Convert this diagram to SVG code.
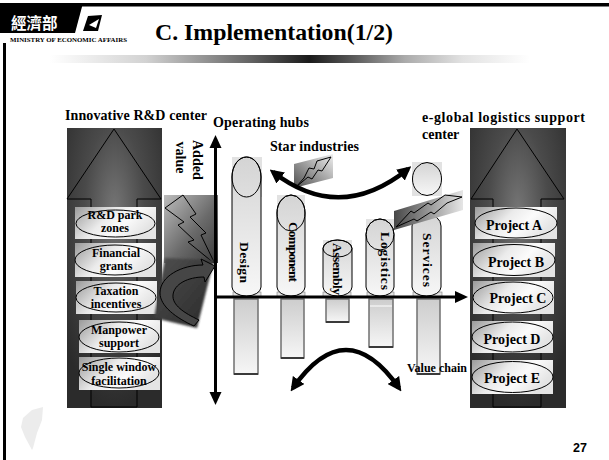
<svg xmlns="http://www.w3.org/2000/svg" width="609" height="460" viewBox="0 0 609 460">
<style>
.t{font-family:"Liberation Serif","Times New Roman",serif;font-weight:bold;fill:#000}
.h{font-size:14px}
.lb{font-size:12px;text-anchor:middle}
.pj{font-size:14px;text-anchor:middle}
.col{font-size:13.5px;text-anchor:middle}
.ol{fill:none;stroke:#000;stroke-width:1}
.box{fill:url(#boxG)}
.panel{fill:url(#panelG)}
.cap{fill:url(#capG);stroke:#000;stroke-width:1}
.capbg{fill:#e2e2e2}
.bar{fill:url(#barG);stroke:#707070;stroke-width:1.5}
.barEdge{stroke:#3a3a3a;stroke-width:2}
.plate{fill:#e2e2e2;stroke:#808080;stroke-width:0.6}
.bolt{fill:none;stroke:#000;stroke-width:1}
.curve{fill:none;stroke:#000;stroke-width:4.5}
.axis{stroke:#000;stroke-width:3;fill:none}
</style>
<defs>
  <linearGradient id="ruleG" x1="0" y1="0" x2="1" y2="0">
    <stop offset="0" stop-color="#ffffff"/>
    <stop offset="0.2" stop-color="#d2d2d2"/>
    <stop offset="0.42" stop-color="#626262"/>
    <stop offset="0.54" stop-color="#1a1a1a"/>
    <stop offset="0.63" stop-color="#585858"/>
    <stop offset="0.74" stop-color="#ababab"/>
    <stop offset="0.86" stop-color="#e2e2e2"/>
    <stop offset="1" stop-color="#ffffff"/>
  </linearGradient>
  <radialGradient id="panelG" cx="0.5" cy="0.3" r="0.7">
    <stop offset="0" stop-color="#767676"/>
    <stop offset="0.45" stop-color="#4a4a4a"/>
    <stop offset="1" stop-color="#2b2b2b"/>
  </radialGradient>
  <linearGradient id="boxG" x1="0" y1="0" x2="1" y2="0.4">
    <stop offset="0" stop-color="#9a9a9a"/>
    <stop offset="0.45" stop-color="#ebebeb"/>
    <stop offset="0.7" stop-color="#fbfbfb"/>
    <stop offset="1" stop-color="#e4e4e4"/>
  </linearGradient>
  <linearGradient id="capG" x1="0" y1="0" x2="0" y2="1">
    <stop offset="0" stop-color="#d4d4d4"/>
    <stop offset="1" stop-color="#f7f7f7"/>
  </linearGradient>
  <linearGradient id="barG" x1="0" y1="0" x2="0" y2="1">
    <stop offset="0" stop-color="#cdcdcd"/>
    <stop offset="1" stop-color="#f6f6f6"/>
  </linearGradient>
  <linearGradient id="starBanG" x1="0" y1="1" x2="1" y2="0">
    <stop offset="0" stop-color="#4e4e4e"/>
    <stop offset="1" stop-color="#f0f0f0"/>
  </linearGradient>
  <linearGradient id="logBanG" x1="0" y1="0" x2="1" y2="0">
    <stop offset="0" stop-color="#474747"/>
    <stop offset="1" stop-color="#e6e6e6"/>
  </linearGradient>
  <linearGradient id="boltBoxG" x1="0" y1="0" x2="1" y2="1">
    <stop offset="0" stop-color="#bdbdbd"/>
    <stop offset="0.55" stop-color="#6a6a6a"/>
    <stop offset="1" stop-color="#3a3a3a"/>
  </linearGradient>
  <linearGradient id="turnG" x1="0" y1="0" x2="1" y2="1">
    <stop offset="0" stop-color="#505050"/>
    <stop offset="0.5" stop-color="#3c3c3c"/>
    <stop offset="1" stop-color="#2a2a2a"/>
  </linearGradient>
  <filter id="soft" x="-0.1" y="-0.1" width="1.2" height="1.2">
    <feGaussianBlur stdDeviation="1.2"/>
  </filter>
  <marker id="ah" viewBox="0 0 10 10" refX="7" refY="5" markerWidth="14" markerHeight="14" markerUnits="userSpaceOnUse" orient="auto-start-reverse">
    <path d="M0,0 L10,5 L0,10 z" fill="#000"/>
  </marker>
</defs>

<rect width="609" height="460" fill="#fff"/>

<!-- slide header -->
<g id="header">
  <rect x="0" y="3" width="609" height="3.5" fill="#000"/>
  <polygon points="0,3 83,3 75,33 0,33" fill="#000"/>
  <text x="11" y="29" font-family="'Noto Sans CJK TC','Noto Sans CJK SC',sans-serif" font-size="15.5" font-weight="bold" fill="#fff">經濟部</text>
  <polygon points="88,16 102,15 98,31 83,31" fill="#000"/>
  <polygon points="89,25 99,19 96,28" fill="#fff"/>
  <text class="t" x="10" y="42" font-size="6.8" textLength="117" lengthAdjust="spacingAndGlyphs">MINISTRY OF ECONOMIC AFFAIRS</text>
  <text class="t" x="155" y="39.5" font-size="23" textLength="238" lengthAdjust="spacingAndGlyphs">C. Implementation(1/2)</text>
  <rect x="50" y="55" width="480" height="8" fill="url(#ruleG)"/>
  <line x1="4.5" y1="43" x2="4.5" y2="460" stroke="#000" stroke-width="3"/>
</g>

<!-- headings -->
<g id="headings">
  <text class="t h" x="65" y="120" textLength="142">Innovative R&amp;D center</text>
  <text class="t h" x="213" y="127" textLength="96">Operating hubs</text>
  <text class="t h" x="270" y="151" textLength="89">Star industries</text>
  <text class="t h" x="422" y="122" textLength="163">e-global logistics support</text>
  <text class="t h" x="422" y="139">center</text>
  <text class="t h" transform="translate(192.5,140) rotate(90)">Added</text>
  <text class="t h" transform="translate(176,141.5) rotate(90)">value</text>
</g>

<!-- left panel: innovative R&D center -->
<g id="rnd-center">
  <rect class="panel" x="67" y="128" width="95" height="280"/>
  <path class="ol" d="M67,199 L114,129 L161,199 L137,199 L137,407 L91,407 L91,199 Z"/>
  <g id="rnd-park">
    <rect class="box" x="75" y="207" width="81" height="32"/>
    <ellipse class="ol" cx="115.5" cy="223.5" rx="39.5" ry="13.5"/>
    <text class="t lb" x="115" y="219">R&amp;D park</text>
    <text class="t lb" x="115" y="232">zones</text>
  </g>
  <g id="financial-grants">
    <rect class="box" x="75" y="243" width="81" height="34"/>
    <ellipse class="ol" cx="115" cy="260" rx="40" ry="15"/>
    <text class="t lb" x="116" y="257">Financial</text>
    <text class="t lb" x="116" y="270">grants</text>
  </g>
  <g id="taxation">
    <rect class="box" x="76" y="281" width="81" height="33"/>
    <ellipse class="ol" cx="116" cy="297.5" rx="40" ry="14.5"/>
    <text class="t lb" x="116" y="295">Taxation</text>
    <text class="t lb" x="116" y="308">incentives</text>
  </g>
  <g id="manpower">
    <rect class="box" x="79" y="320" width="81" height="33"/>
    <ellipse class="ol" cx="119" cy="337" rx="40" ry="15"/>
    <text class="t lb" x="119" y="334">Manpower</text>
    <text class="t lb" x="119" y="347">support</text>
  </g>
  <g id="single-window">
    <rect class="box" x="79" y="357" width="81" height="33"/>
    <ellipse class="ol" cx="119" cy="373" rx="40" ry="15"/>
    <text class="t lb" x="119" y="371">Single window</text>
    <text class="t lb" x="119" y="385">facilitation</text>
  </g>
</g>

<!-- right panel: e-global logistics support center -->
<g id="logistics-center">
  <rect class="panel" x="470" y="128" width="96" height="280"/>
  <path class="ol" d="M471,199 L517,129 L564,199 L541,199 L541,407 L493,407 L493,199 Z"/>
  <g id="project-a">
    <rect class="box" x="475" y="207" width="82" height="32"/>
    <ellipse class="ol" cx="516" cy="223" rx="41" ry="15"/>
    <text class="t pj" x="514" y="230">Project A</text>
  </g>
  <g id="project-b">
    <rect class="box" x="473" y="243" width="82" height="34"/>
    <ellipse class="ol" cx="514" cy="260" rx="41" ry="15.5"/>
    <text class="t pj" x="516" y="267">Project B</text>
  </g>
  <g id="project-c">
    <rect class="box" x="473" y="281" width="81" height="33"/>
    <ellipse class="ol" cx="513" cy="297.5" rx="40" ry="15.5"/>
    <text class="t pj" x="518" y="303">Project C</text>
  </g>
  <g id="project-d">
    <rect class="box" x="472" y="321" width="81" height="32"/>
    <ellipse class="ol" cx="512.5" cy="337" rx="40.5" ry="15"/>
    <text class="t pj" x="512" y="344">Project D</text>
  </g>
  <g id="project-e">
    <rect class="box" x="472" y="360" width="81" height="34"/>
    <ellipse class="ol" cx="512.5" cy="377" rx="40.5" ry="15.5"/>
    <text class="t pj" x="512" y="383">Project E</text>
  </g>
</g>

<!-- lightning box and turning panel beside the value axis -->
<g id="boost">
  <rect x="164" y="195" width="54" height="68" fill="url(#boltBoxG)"/>
  <path class="bolt" d="M183,195 L165,208 L184,222 L178,225 L194,240 L188,242 L215,264 L201,235 L206,233 L190,217 L196,214 Z"/>
</g>
<g id="turn">
  <polygon points="165,258 214,260 197,328 154,318" fill="url(#turnG)" filter="url(#soft)"/>
  <path d="M215,266 L201,259 L203,265 C182,265 160,276 160,293 C160,306 176,318 194,326 L199,320 C184,313 172,305 173,295 C174,284 188,277 204,277 L205,282 Z" fill="#464646" stroke="#000" stroke-width="1"/>
</g>

<!-- value-chain columns -->
<g id="design">
  <rect class="capbg" x="232" y="157" width="30" height="40"/>
  <rect class="plate" x="233" y="292" width="28" height="5"/>
  <path class="cap" d="M232,177 A14.5,20 0 0 1 261,177 L261,287 A14.5,9 0 0 1 232,287 Z"/>
  <ellipse class="ol" cx="246.5" cy="177" rx="14.5" ry="20"/>
  <text class="t col" font-size="14" transform="translate(240,262.5) rotate(90)" textLength="41">Design</text>
  <rect class="bar" x="234" y="299" width="24" height="75"/>
  <line class="barEdge" x1="234" y1="374" x2="258" y2="374"/>
</g>
<g id="component">
  <rect class="capbg" x="277" y="195" width="28" height="36"/>
  <rect class="plate" x="277" y="292" width="28" height="5"/>
  <path class="cap" d="M277,213 A14,18 0 0 1 305,213 L305,287 A14,9 0 0 1 277,287 Z"/>
  <ellipse class="ol" cx="291" cy="213" rx="14" ry="18"/>
  <text class="t col" font-size="12.5" transform="translate(288.5,252) rotate(90)" textLength="60">Component</text>
  <rect class="bar" x="281" y="299" width="23" height="59"/>
  <line class="barEdge" x1="281" y1="358" x2="304" y2="358"/>
</g>
<g id="assembly">
  <rect class="capbg" x="323" y="240" width="29" height="17"/>
  <rect class="plate" x="323" y="292" width="28" height="5"/>
  <path class="cap" d="M323,248.5 A14.5,8.5 0 0 1 352,248.5 L352,287 A14.5,9 0 0 1 323,287 Z"/>
  <ellipse class="ol" cx="337.5" cy="248.5" rx="14.5" ry="8.5"/>
  <text class="t col" font-size="12.5" transform="translate(333,269) rotate(90)" textLength="52">Assembly</text>
  <rect class="bar" x="326" y="299" width="23" height="23"/>
  <line class="barEdge" x1="326" y1="322" x2="349" y2="322"/>
</g>
<g id="logistics">
  <rect class="capbg" x="366" y="219" width="28" height="31"/>
  <rect class="plate" x="367" y="292" width="27" height="5"/>
  <path class="cap" d="M366,234.5 A14,15.5 0 0 1 394,234.5 L394,287 A14,9 0 0 1 366,287 Z"/>
  <ellipse class="ol" cx="380" cy="234.5" rx="14" ry="15.5"/>
  <text class="t col" transform="translate(381,261) rotate(90)" textLength="58">Logistics</text>
  <rect class="bar" x="369" y="299" width="24" height="48"/>
  <line x1="370" y1="306" x2="392" y2="306" stroke="#fff" stroke-width="1"/>
  <line class="barEdge" x1="369" y1="347" x2="393" y2="347"/>
</g>
<g id="services">
  <rect class="capbg" x="412" y="162" width="30" height="34"/>
  <ellipse class="cap" cx="427" cy="179" rx="14.5" ry="16.5"/>
  <rect class="plate" x="413" y="292" width="29" height="5"/>
  <path class="cap" d="M412,226 A14.5,12 0 0 1 441,226 L441,287 A14.5,9 0 0 1 412,287 Z"/>
  <text class="t col" transform="translate(423,260) rotate(90)" textLength="54">Services</text>
  <rect class="bar" x="417" y="299" width="23" height="75"/>
  <line class="barEdge" x1="417" y1="374" x2="440" y2="374"/>
</g>

<!-- lightning banners -->
<g id="star-banner">
  <polygon points="294,164 333,154 333,178 294,188" fill="url(#starBanG)"/>
  <path class="bolt" d="M331,157 L317,161 L314,169 L309,168 L304,178 L296,187 L308,177 L312,179 L318,170 L322,171 Z"/>
</g>
<g id="logistics-banner">
  <polygon points="394,211 463,190 463,210 394,230" fill="url(#logBanG)"/>
  <path class="bolt" d="M462,197 L445,195 L431,205 L428,203 L414,213 L411,211 L396,227 L414,219 L417,221 L431,212 L434,214 L447,203 Z"/>
</g>

<!-- connectors: axes and curved arrows -->
<g id="connectors">
  <line class="axis" x1="215.5" y1="146" x2="215.5" y2="394"/>
  <polygon points="215.5,135 209.5,148 221.5,148" fill="#000"/>
  <polygon points="215.5,405 209.5,392 221.5,392" fill="#000"/>
  <line class="axis" x1="215" y1="297" x2="457" y2="297" stroke-width="3.5"/>
  <polygon points="468,297 455,291 455,303" fill="#000"/>
  <path class="curve" d="M273,172 Q340,224 408,169" marker-start="url(#ah)" marker-end="url(#ah)"/>
  <path class="curve" d="M293,388 Q346,312 399,388" marker-start="url(#ah)" marker-end="url(#ah)"/>
</g>

<text class="t" x="407" y="372" font-size="12" textLength="60">Value chain</text>

<!-- footer -->
<g id="footer">
  <path d="M43,407 L42,420 L37,433 L33,448 L32,450 L25,437 L21,427 L23,418 L32,410 Z" fill="#ececec"/>
  <text x="573" y="452" font-family="'Liberation Sans',Arial,sans-serif" font-weight="bold" font-size="12.5">27</text>
</g>
</svg>
